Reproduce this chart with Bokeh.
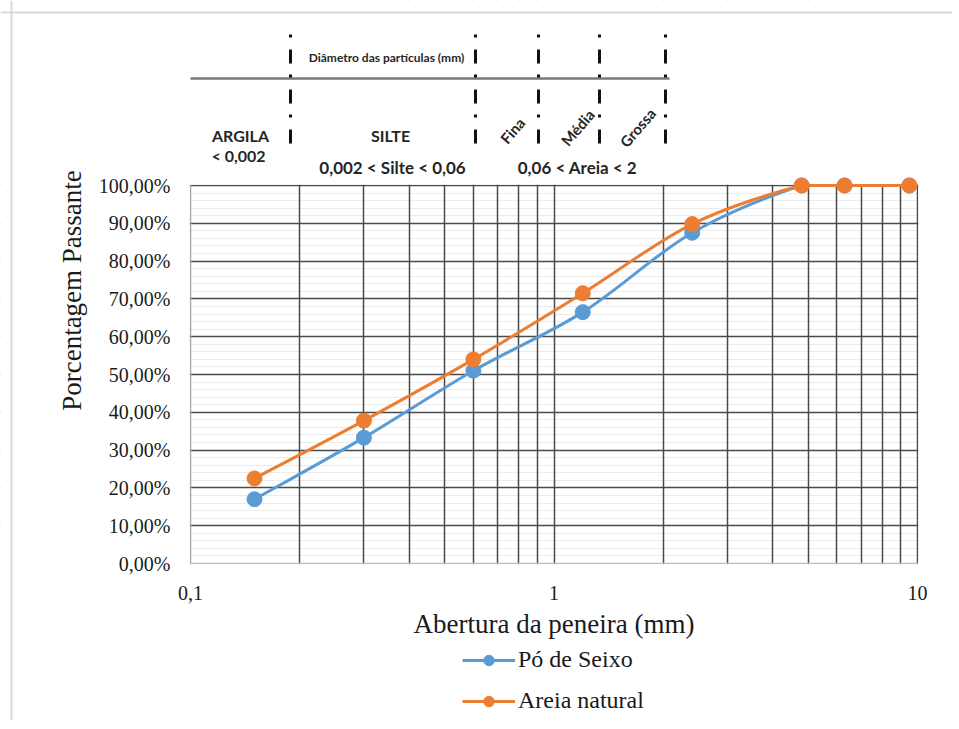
import numpy as np
from bokeh.plotting import figure
from bokeh.models import (FixedTicker, Legend, LegendItem, Range1d, Grid, BoxAnnotation, Span)
from bokeh.core.properties import value
from bokeh.embed import file_html
from bokeh.resources import INLINE

# ---------------- data ----------------
sieve_mm = [0.15, 0.3, 0.6, 1.2, 2.4, 4.8, 6.3, 9.5]
po_de_seixo = [17.0, 33.3, 51.0, 66.5, 87.5, 100.0, 100.0, 100.0]
areia_natural = [22.5, 37.8, 54.0, 71.5, 89.8, 100.0, 100.0, 100.0]
series_names = ["Pó de Seixo", "Areia natural"]
series_colors = ["#5B9BD5", "#ED7D31"]

y_ticks = [0, 10, 20, 30, 40, 50, 60, 70, 80, 90, 100]
y_tick_labels = ["0,00%", "10,00%", "20,00%", "30,00%", "40,00%", "50,00%",
                 "60,00%", "70,00%", "80,00%", "90,00%", "100,00%"]
x_ticks = [0.1, 1, 10]
x_tick_labels = ["0,1", "1", "10"]
x_grid = [0.2, 0.3, 0.4, 0.5, 0.6, 0.7, 0.8, 0.9,
          1, 2, 3, 4, 5, 6, 7, 8, 9, 10]

x_title = "Abertura da peneira (mm)"
y_title = "Porcentagem Passante"

# header (grain-size classification) texts
head_texts = ["Diâmetro das partículas (mm)", "ARGILA", "< 0,002", "SILTE",
              "0,002 < Silte < 0,06", "0,06 < Areia < 2", "Fina", "Média", "Grossa"]

SERIF = "Liberation Serif"
HEAD = "Lato"
GRID_DARK = "#4a4a4a"

# ---------- layout (pixels) ----------
W, H = 952, 720
PX_L, PX_R = 190, 917          # pixel columns of 0.1 mm and 10 mm
PX_0, PX_100 = 563, 185        # pixel rows of 0 % and 100 %


def fx(px):
    return 10 ** (-1 + 2 * (px - PX_L) / (PX_R - PX_L))


def fy(py):
    return (PX_0 - py) / (PX_0 - PX_100) * 100


# the frame covers the whole canvas; axes are pinned at 0.1 mm / 0 %
p = figure(width=W, height=H, x_axis_type="log",
           x_range=Range1d(fx(0), fx(W)), y_range=Range1d(fy(H), fy(0)),
           output_backend="svg", toolbar_location=None,
           min_border_left=0, min_border_right=0, min_border_top=0, min_border_bottom=0,
           outline_line_color=None)
p.background_fill_color = "white"
p.border_fill_color = "white"

# grids: light minor rows, dark major rows, then dark columns on top
p.xgrid.visible = False
p.ygrid.ticker = FixedTicker(ticks=y_ticks[1:], minor_ticks=list(range(2, 100, 2)))
p.ygrid.grid_line_color = GRID_DARK
p.ygrid.grid_line_width = 1.5
p.ygrid.minor_grid_line_color = "#ebebeb"
p.add_layout(Grid(dimension=0, ticker=FixedTicker(ticks=x_grid), grid_line_color=GRID_DARK,
                  grid_line_width=1.5))
p.add_layout(Grid(dimension=0, ticker=FixedTicker(ticks=[0.1]), grid_line_color="#a6a6a6",
                  grid_line_width=1.5))
p.add_layout(Grid(dimension=1, ticker=FixedTicker(ticks=[0]), grid_line_color="#bfbfbf",
                  grid_line_width=1.5))
# keep the grid inside the plotting area (0.1..10 mm, 0..100 %)
XL, XR, YB, YT = fx(-40), fx(W + 40), fy(H + 40), fy(-40)
for l, r, b, t in ((XL, fx(PX_L - 0.8), YB, YT), (fx(PX_R + 0.8), XR, YB, YT),
                   (XL, XR, fy(PX_100 - 0.8), YT), (XL, XR, YB, fy(PX_0 + 0.8))):
    p.add_layout(BoxAnnotation(left=l, right=r, bottom=b, top=t, fill_color="white",
                               fill_alpha=1, line_alpha=0, level="underlay"))

# light border of the original picture
p.add_layout(Span(location=fx(11), dimension="height", line_color="#d9d9d9", line_width=2))
p.add_layout(Span(location=fy(12), dimension="width", line_color="#d9d9d9", line_width=2))

# axes
p.yaxis.fixed_location = 0.1
p.xaxis.fixed_location = 0
p.yaxis.bounds = (0, 100)
p.xaxis.bounds = (0.1, 10)
p.yaxis.ticker = FixedTicker(ticks=y_ticks)
p.yaxis.major_label_overrides = {t: l for t, l in zip(y_ticks, y_tick_labels)}
p.xaxis.ticker = FixedTicker(ticks=x_ticks)
p.xaxis.major_label_overrides = {t: l for t, l in zip(x_ticks, x_tick_labels)}
for ax in (p.xaxis, p.yaxis):
    ax.axis_line_color = None
    ax.major_tick_line_color = None
    ax.minor_tick_line_color = None
    ax.major_label_text_font = SERIF
    ax.major_label_text_font_size = "20px"
    ax.major_label_text_color = "#1a1a1a"
    ax.axis_label_text_font = SERIF
    ax.axis_label_text_font_style = "normal"
    ax.axis_label_text_font_size = "27px"
    ax.axis_label_text_color = "#1a1a1a"
p.yaxis.major_label_standoff = 14
p.xaxis.major_label_standoff = 16
p.xaxis.axis_label = x_title
p.xaxis.axis_label_standoff = 6

p.text(x=[fx(71)], y=[fy(290)], text=[y_title], angle=np.pi / 2,
       text_font=value(SERIF), text_font_size="27px", text_color="#1a1a1a",
       text_align="center", text_baseline="middle")


def smooth(xs, ys):
    """Excel-like smoothed line as cubic Bezier pieces through the data points."""
    lx = np.log10(np.array(xs, dtype=float))
    y = np.array(ys, dtype=float)
    n = len(lx)
    out = {k: [] for k in ("x0", "y0", "x1", "y1", "cx0", "cy0", "cx1", "cy1")}
    for i in range(n - 1):
        a = max(i - 1, 0)
        b = min(i + 2, n - 1)
        c0x = lx[i] + (lx[i + 1] - lx[a]) / 6
        c0y = y[i] + (y[i + 1] - y[a]) / 6
        c1x = lx[i + 1] - (lx[b] - lx[i]) / 6
        c1y = y[i + 1] - (y[b] - y[i]) / 6
        lo, hi = min(y[i], y[i + 1]), max(y[i], y[i + 1])
        c0y = min(max(c0y, lo), hi)
        c1y = min(max(c1y, lo), hi)
        out["x0"].append(10 ** lx[i]); out["y0"].append(y[i])
        out["x1"].append(10 ** lx[i + 1]); out["y1"].append(y[i + 1])
        out["cx0"].append(10 ** c0x); out["cy0"].append(c0y)
        out["cx1"].append(10 ** c1x); out["cy1"].append(c1y)
    return out


items = []
for name, vals, col in zip(series_names, [po_de_seixo, areia_natural], series_colors):
    s = smooth(sieve_mm, vals)
    bz = p.bezier(x0=s["x0"], y0=s["y0"], x1=s["x1"], y1=s["y1"],
                  cx0=s["cx0"], cy0=s["cy0"], cx1=s["cx1"], cy1=s["cy1"],
                  line_color=col, line_width=3)
    sc = p.scatter(sieve_mm, vals, size=15, fill_color=col, line_color=col)
    items.append(LegendItem(label=name, renderers=[bz, sc]))

legend = Legend(items=items, location=(462, 6), orientation="vertical",
                border_line_color=None, background_fill_alpha=0,
                padding=0, margin=0, spacing=14, label_height=26, glyph_height=26,
                glyph_width=53, label_standoff=3,
                label_text_font=SERIF, label_text_font_size="24px",
                label_text_color="#1a1a1a")
p.add_layout(legend, "center")

# ---------- header drawing (above the 100 % line) ----------
p.segment(x0=[fx(190)], y0=[fy(78)], x1=[fx(669)], y1=[fy(78)],
          line_color="#7a7a7a", line_width=2.5)
sep_px = [290, 475, 538, 599, 665]
p.segment(x0=[fx(v) for v in sep_px], y0=[fy(34)] * len(sep_px),
          x1=[fx(v) for v in sep_px], y1=[fy(146)] * len(sep_px),
          line_color="#111111", line_width=3, line_dash="3 12 14 11")

hx = [386, 240, 238, 390, 392, 577, 512, 577, 637]
hy = [57, 135, 155, 135, 167, 167, 130, 127, 127]
hs = ["12px", "16px", "16px", "16px", "17px", "17px", "15px", "15px", "15px"]
ha = [0, 0, 0, 0, 0, 0, 0.86, 0.86, 0.86]
for t, x, y, s, a in zip(head_texts, hx, hy, hs, ha):
    p.text(x=[fx(x)], y=[fy(y)], text=[t], angle=a, text_font=value(HEAD),
           text_font_style="bold", text_font_size=s, text_color="#262626",
           text_align="center", text_baseline="middle")

open("out.html", "w").write(file_html(p, INLINE))
